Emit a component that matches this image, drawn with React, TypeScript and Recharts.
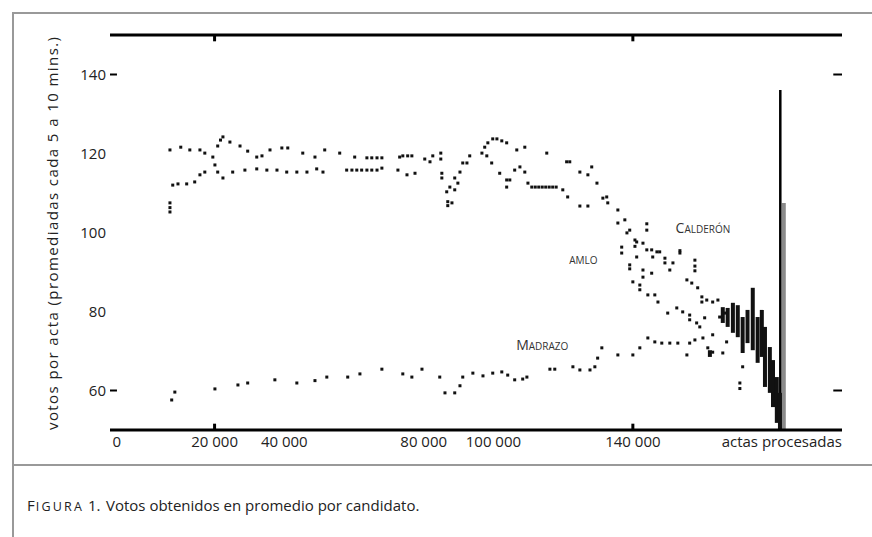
import { ScatterChart, Scatter, XAxis, YAxis, ReferenceLine, ReferenceDot } from 'recharts'

// x: miles de actas procesadas, y: votos por acta
const calderon: [number, number][] = [
  [7.2, 120.9], [10.3, 121.6], [12.9, 120.9], [15.8, 120.9], [17.2, 120.1], [19.5, 119.1], [20.9, 121.9],
  [21.7, 123.4], [22.4, 124.2], [24.4, 122.9], [27.3, 121.9], [29.5, 120.6], [32.1, 119.1], [33.6, 119.4],
  [35.9, 120.9], [39.3, 121.4], [41.0, 121.4], [45.3, 120.1], [48.8, 119.1], [51.6, 120.9], [55.9, 120.1],
  [60.2, 119.1], [63.7, 118.9], [65.1, 118.9], [66.6, 118.9], [68.0, 118.9], [73.1, 119.1], [74.0, 119.4],
  [75.4, 119.4], [76.6, 119.4], [80.3, 118.6], [81.8, 117.9], [82.6, 119.4], [84.9, 120.1], [84.9, 118.6],
  [89.8, 112.5], [90.4, 115.3], [91.2, 117.6], [92.4, 117.6], [93.2, 119.4], [96.7, 120.1], [97.5, 121.6],
  [98.4, 122.7], [99.8, 123.7], [101.0, 123.7], [102.4, 123.2], [103.8, 122.7], [106.7, 120.9], [109.0, 121.6],
  [115.3, 120.1], [121.0, 117.9], [121.9, 117.9], [124.8, 115.3], [127.1, 114.6], [128.2, 116.6], [129.7, 112.5],
  [131.4, 108.7], [132.5, 109.0], [135.7, 105.7], [138.3, 99.9], [140.6, 98.1], [140.6, 96.5], [142.9, 97.3],
  [144.0, 102.2], [144.0, 100.6], [145.4, 95.6], [147.7, 95.1], [149.2, 93.5], [149.2, 92.3], [153.5, 95.4],
  [153.5, 94.8], [157.8, 93.0], [157.8, 91.5], [157.8, 90.3], [155.5, 88.0], [156.9, 87.2], [158.6, 86.0],
  [159.8, 83.7], [159.8, 82.4], [161.2, 82.9], [162.9, 82.4], [164.4, 82.9],
]

const amlo: [number, number][] = [
  [7.2, 107.5], [7.2, 106.3], [7.2, 105.2], [8.0, 112.0], [9.5, 112.3], [12.0, 112.3], [14.3, 112.8],
  [15.8, 114.6], [17.2, 115.3], [20.1, 117.1], [20.9, 115.3], [22.4, 113.8], [25.2, 115.3], [28.7, 115.8],
  [32.1, 116.1], [35.0, 115.8], [37.9, 115.8], [40.7, 115.3], [43.6, 115.3], [46.5, 115.3], [49.3, 116.1],
  [51.1, 115.3], [57.9, 115.8], [59.4, 115.8], [60.8, 115.8], [62.2, 115.8], [63.7, 115.8], [65.1, 115.8],
  [66.6, 115.8], [68.0, 116.3], [72.6, 115.8], [75.2, 114.6], [77.5, 115.0], [85.2, 115.0], [85.2, 113.8],
  [86.6, 110.3], [87.5, 111.5], [88.9, 113.8], [88.9, 110.8], [86.9, 107.8], [86.9, 106.8], [88.1, 107.5],
  [98.1, 119.4], [99.5, 117.6], [101.8, 115.0], [103.8, 113.3], [104.7, 113.3], [103.8, 111.5], [106.1, 115.8],
  [107.6, 116.6], [109.0, 115.3], [109.9, 112.5], [111.0, 111.5], [112.0, 111.5], [113.0, 111.5], [114.0, 111.5],
  [115.0, 111.5], [116.0, 111.5], [117.0, 111.5], [118.0, 111.5], [119.9, 110.8], [121.3, 109.0], [124.8, 106.7],
  [127.1, 106.7], [132.8, 107.5], [135.7, 102.4], [137.7, 103.2], [139.1, 100.6], [141.1, 97.6], [136.8, 96.3],
  [136.8, 94.8], [139.1, 91.8], [139.1, 90.8], [142.9, 90.5], [141.1, 93.8], [144.0, 95.6], [145.7, 93.8],
  [146.9, 95.1], [140.0, 87.5], [142.0, 86.7], [142.0, 85.5], [142.9, 88.7], [144.3, 84.2], [146.3, 84.2],
  [145.4, 89.7], [150.6, 90.5], [151.5, 92.3], [147.2, 82.4], [150.0, 79.6], [152.6, 80.9], [154.3, 79.9],
  [156.3, 79.1], [156.3, 77.9], [158.3, 77.1], [159.2, 76.1], [160.6, 78.4], [162.9, 74.1], [164.9, 78.6],
  [166.4, 79.6],
]

const madrazo: [number, number][] = [
  [7.7, 57.6], [8.6, 59.6], [20.1, 60.4], [26.7, 61.4], [29.5, 61.9], [37.3, 62.7], [43.6, 61.9], [48.8, 62.5],
  [52.2, 63.4], [58.2, 63.4], [61.7, 64.2], [68.0, 65.4], [74.0, 64.2], [76.6, 63.4], [79.5, 65.4], [84.6, 63.4],
  [86.1, 59.4], [88.9, 59.4], [90.4, 61.2], [91.2, 63.4], [94.1, 64.4], [97.0, 63.7], [99.8, 64.4], [102.4, 64.7],
  [104.1, 63.9], [106.1, 62.7], [108.4, 62.9], [109.6, 63.4], [116.2, 65.4], [117.6, 65.4], [122.8, 66.0],
  [124.8, 65.2], [127.7, 65.2], [129.1, 66.0], [129.9, 68.2], [131.1, 70.8], [135.7, 69.0], [140.0, 69.0],
  [142.0, 70.8], [144.3, 73.3], [146.3, 72.3], [148.3, 72.0], [150.6, 72.0], [152.9, 72.0], [155.5, 69.0],
  [156.3, 72.0], [157.8, 72.8], [160.1, 73.3], [161.5, 70.8], [162.9, 69.7], [165.8, 69.5], [166.9, 72.3],
  [170.7, 61.9], [170.7, 60.5], [171.5, 66.0],
]

// al final los tres se mezclan: tramos verticales (x, desde, hasta)
const cierre: [number, number, number][] = [
  [162.1, 68.5, 70.2], [165.8, 77.1, 81.1], [167.2, 76.1, 80.9], [168.7, 74.6, 82.2], [170.1, 73.5, 81.6],
  [171.5, 69.5, 78.6], [172.9, 72.0, 80.4], [174.4, 70.2, 86.0], [175.8, 67.0, 78.6], [177.0, 68.5, 80.4],
  [177.9, 60.9, 76.1], [179.3, 59.4, 71.0], [180.2, 55.8, 67.7], [181.3, 51.8, 63.4], [182.2, 50.0, 59.4],
]

const barraNegra = { x: 182.3, tope: 136.1 }
const barraGris = { x: 183.3, tope: 107.5 }

const xTicks = [0, 20, 40, 80, 100, 140]
const yTicks = [60, 80, 100, 120, 140]
const marcasX = [20, 140]
const marcasY = [60, 140]

const etiquetas = [
  { nombre: 'Calderón', x: 160.1, y: 99.9 },
  { nombre: 'amlo', x: 125.8, y: 92.0 },
  { nombre: 'Madrazo', x: 114.0, y: 70.3 },
]

const FONT = '"Open Sans", sans-serif'
const toPts = (arr: [number, number][]) => arr.map(([x, y]) => ({ x, y }))

const Punto = (p: any) => <rect x={p.cx - 1.5} y={p.cy - 1.5} width={3} height={3} fill="#111" />

const XTick = (p: any) => {
  const v = p.payload.value
  // el "0" del original no cae bajo su posicion real, va corrido a la izquierda
  const dx = v === 0 ? -28 : 0
  return (
    <text x={p.x + dx} y={447} textAnchor="middle" fontSize={15} fontFamily={FONT} fill="#222">
      {v === 0 ? '0' : `${v} 000`}
    </text>
  )
}

const YTick = (p: any) => (
  <text x={106} y={p.y + 5} textAnchor="end" fontSize={15} fontFamily={FONT} fill="#222">
    {p.payload.value}
  </text>
)

export default function App() {
  return (
    <div style={{ position: 'absolute', left: 0, top: 0, width: 872, height: 537, background: '#fff', overflow: 'hidden' }}>
      <div style={{ position: 'absolute', left: 12, top: 12, width: 880, height: 540, borderTop: '2px solid #999', borderLeft: '2px solid #999' }} />
      <div style={{ position: 'absolute', left: 12, top: 464, width: 880, borderTop: '2px solid #999' }} />
      <div style={{ position: 'absolute', left: 0, top: 0 }}>
        <ScatterChart width={872} height={460} margin={{ top: 35, right: 30, bottom: 0, left: 70 }}>
          <XAxis
            type="number"
            dataKey="x"
            domain={[-10, 200]}
            allowDataOverflow
            ticks={xTicks}
            interval={0}
            height={30}
            tickLine={false}
            axisLine={{ stroke: '#000', strokeWidth: 3 }}
            tick={<XTick />}
          />
          <YAxis
            type="number"
            dataKey="y"
            domain={[50, 150]}
            allowDataOverflow
            ticks={yTicks}
            interval={0}
            width={40}
            tickLine={false}
            axisLine={false}
            tick={<YTick />}
          />
          <ReferenceLine y={150} stroke="#000" strokeWidth={3} />
          {marcasX.map((v) => (
            <ReferenceLine key={`t${v}`} segment={[{ x: v, y: 150 }, { x: v, y: 148.4 }]} stroke="#000" strokeWidth={3} />
          ))}
          {marcasX.map((v) => (
            <ReferenceLine key={`b${v}`} segment={[{ x: v, y: 50 }, { x: v, y: 51.6 }]} stroke="#000" strokeWidth={3} />
          ))}
          {marcasY.map((v) => (
            <ReferenceLine key={`l${v}`} segment={[{ x: -10, y: v }, { x: -8, y: v }]} stroke="#000" strokeWidth={2} />
          ))}
          {marcasY.map((v) => (
            <ReferenceLine key={`r${v}`} segment={[{ x: 197.5, y: v }, { x: 200, y: v }]} stroke="#000" strokeWidth={2} />
          ))}
          <ReferenceLine segment={[{ x: barraGris.x, y: 50 }, { x: barraGris.x, y: barraGris.tope }]} stroke="#8a8a8a" strokeWidth={4} />
          <ReferenceLine segment={[{ x: barraNegra.x, y: 50 }, { x: barraNegra.x, y: barraNegra.tope }]} stroke="#000" strokeWidth={2.5} />
          {cierre.map(([x, a, b], i) => (
            <ReferenceLine key={`c${i}`} segment={[{ x, y: a }, { x, y: b }]} stroke="#111" strokeWidth={4} />
          ))}
          <Scatter name="Calderón" data={toPts(calderon)} shape={Punto} isAnimationActive={false} />
          <Scatter name="AMLO" data={toPts(amlo)} shape={Punto} isAnimationActive={false} />
          <Scatter name="Madrazo" data={toPts(madrazo)} shape={Punto} isAnimationActive={false} />
          {etiquetas.map((e) => (
            <ReferenceDot
              key={e.nombre}
              x={e.x}
              y={e.y}
              shape={(p: any) => (
                <text x={p.cx} y={p.cy} textAnchor="middle" fontSize={14} fontFamily={FONT} fill="#333" style={{ fontVariant: 'small-caps' }}>
                  {e.nombre}
                </text>
              )}
            />
          ))}
        </ScatterChart>
      </div>
      <svg width={872} height={537} style={{ position: 'absolute', left: 0, top: 0, pointerEvents: 'none' }}>
        <text transform="rotate(-90)" x={-430} y={58} fontSize={15} fontFamily={FONT} fill="#222" textLength={393} lengthAdjust="spacing">
          votos por acta (promediadas cada 5 a 10 mins.)
        </text>
        <text x={842} y={447} textAnchor="end" fontSize={15} fontFamily={FONT} fill="#222">
          actas procesadas
        </text>
        <text x={27} y={511} fontSize={15} fontFamily={FONT} fill="#222">
          <tspan letterSpacing={1}>F</tspan>
          <tspan fontSize={12.5} letterSpacing={2.2}>IGURA</tspan>
          <tspan> 1.</tspan>
          <tspan x={106}>Votos obtenidos en promedio por candidato.</tspan>
        </text>
      </svg>
    </div>
  )
}
